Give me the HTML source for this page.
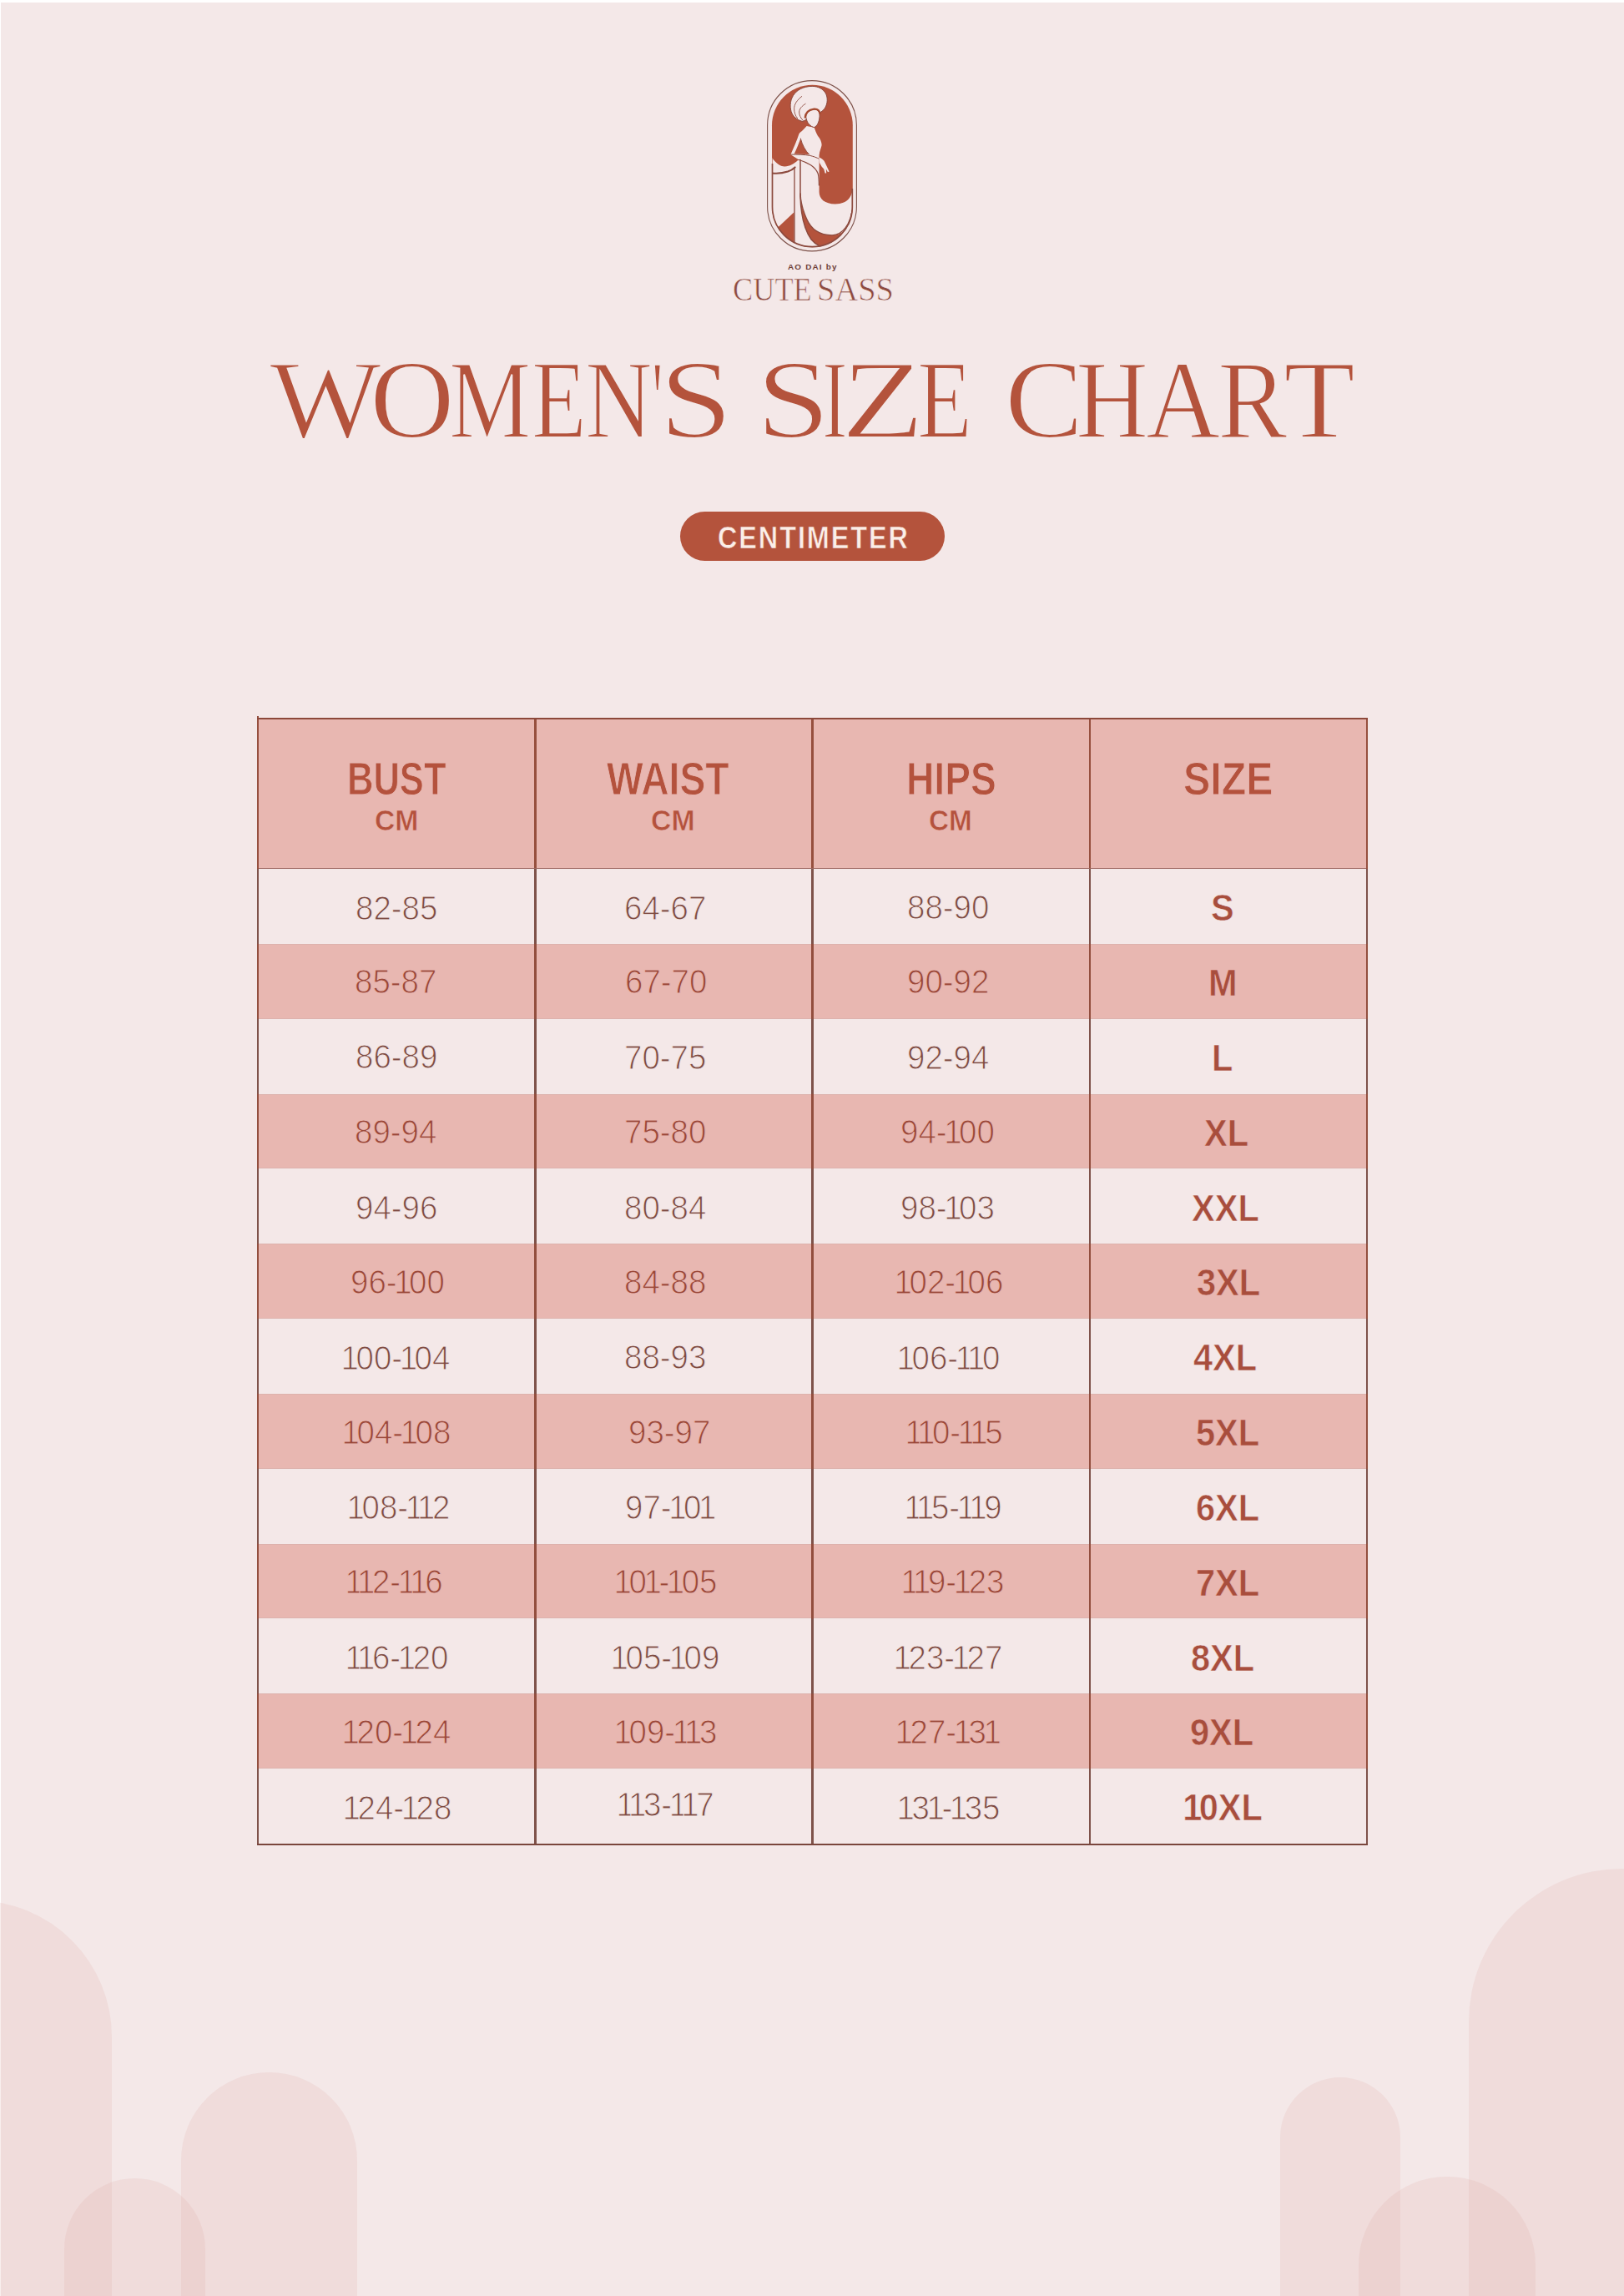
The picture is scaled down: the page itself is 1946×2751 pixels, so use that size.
<!DOCTYPE html><html><head><meta charset="utf-8"><title>Women's Size Chart</title><style>

html,body{margin:0;padding:0;}
body{width:1946px;height:2751px;position:relative;overflow:hidden;background:#F4E8E8;}
.t{position:absolute;white-space:nowrap;line-height:1;transform-origin:0 0;}
.a{position:absolute;background:rgba(222,168,164,0.185);}
.band{position:absolute;left:310px;width:1327px;background:#E8B7B1;}
.be{box-shadow:inset 0 1px 0 #DDB2AD, inset 0 -1px 0 #DDB2AD;}
.vl{position:absolute;background:#8A4A3F;}
.one{font-style:normal;margin:0 -0.09em;}
.L{display:inline-block;transform-origin:0 0;}

</style></head><body>
<div style="position:absolute;left:0;top:0;width:1946px;height:3px;background:#fff"></div>
<div style="position:absolute;left:0;top:0;width:1px;height:2751px;background:#fff"></div>
<div class="a" style="left:-193.5px;top:2276.5px;width:327.0px;height:479.5px;border-radius:163.5px 163.5px 0 0"></div>
<div class="a" style="left:217.0px;top:2482.6px;width:211.0px;height:273.4px;border-radius:105.5px 105.5px 0 0"></div>
<div class="a" style="left:77.1px;top:2610.4px;width:169.2px;height:145.6px;border-radius:84.6px 84.6px 0 0"></div>
<div class="a" style="left:1759.5px;top:2238.5px;width:367.0px;height:517.5px;border-radius:183.5px 183.5px 0 0"></div>
<div class="a" style="left:1533.6px;top:2489.4px;width:144.8px;height:266.6px;border-radius:72.4px 72.4px 0 0"></div>
<div class="a" style="left:1628.4px;top:2608.0px;width:211.2px;height:148.0px;border-radius:105.6px 105.6px 0 0"></div>
<svg style="position:absolute;left:905px;top:85px" width="140" height="230" viewBox="905 85 140 230">
<defs><clipPath id="cap"><rect x="925.6" y="102.4" width="95.6" height="193.2" rx="47.8"/></clipPath></defs>
<rect x="919.6" y="96.6" width="106.8" height="204.3" rx="53.4" fill="none" stroke="#7D5149" stroke-width="1.1"/>
<rect x="925" y="101.8" width="96.8" height="194.4" rx="48.4" fill="#B4533C"/>
<g clip-path="url(#cap)">
<g fill="#F4E8E8">
<!-- halo -->
<path d="M973.2 103.4 C980.5 103.4 986.5 106.5 989.5 112 C992 117 991.8 124 988.8 129 C987.3 131.5 985.5 133 983.6 134.2 L962 145.5 C957 144.5 951.5 141 949 136 C946.2 130 946.3 121 950.5 114.5 C954.5 108 962.5 103.4 973.2 103.4 Z" stroke="#8C4A3E" stroke-width="1"/>
<!-- main white: body + arm + dress -->
<path d="M966.6 151 L975.6 152.8 C976.8 155.5 977.5 158.5 979.9 162.8 C983.5 167 985 171.5 984.5 174.5 C983.8 178 982 181 981.6 186 L981.6 230 C981.6 238.5 988.5 244.4 1000.8 244.4 C1013 244.4 1020 238 1021.5 228 L1022 300 L959.6 300 L959.6 191.5 L957.4 191.4 L947.4 185.2 C951.5 176 955 168 957.4 160.5 C958.5 158.8 959.6 157.8 960.7 157.3 C963 155 965 153 966.6 151 Z"/>
<!-- white crescent under hair lobe + left panel -->
<path d="M924 187.2 C929 195 934 199.3 940.2 199.4 C946 199.5 951.5 196.5 955.8 192.3 L960.4 191.4 L960.4 300 L951.5 300 L951.5 254.3 L930 274.5 L924 274.5 Z"/>
</g>
<!-- crescent (terracotta) -->
<path d="M959.2 232 C959.2 242 961.2 250 966.5 262 C972.5 276 984 281.8 997 281.8 C1006 281.8 1013 277 1017 270 L1030 300 L983.5 300 L983.5 295.5 C979 293.5 975 290.5 972.2 287 C964.2 276 959.7 258 958.7 235 Z" fill="#B4533C"/>
<!-- arm gap triangle -->
<path d="M959.3 166 C961.5 174 965 180.5 969.6 185.1 L951.6 184.6 C954.5 178.5 957.2 172 959.3 166 Z" fill="#B4533C"/>
<g fill="none" stroke="#8C4A3E" stroke-linecap="round">
<!-- left lobe arc -->
<path d="M924.5 207.4 C931 208.2 938 207.5 944 205.6 C947.5 204.3 950.5 202.5 952.6 200.4" stroke-width="2.1"/>
<!-- vertical lines -->
<path d="M952 202.5 L952 300" stroke-width="1.3"/>
<path d="M959 191.5 L959 235 C959.7 258 964.2 276 972.2 287 C975 290.5 979 293.5 983.5 295.6" stroke-width="1.5"/>
<!-- U outline -->
<path d="M959.2 232 C959.2 242 961.2 250 966.5 262 C972.5 276 984 281.8 997 281.8 C1010 281.8 1019 268 1021 252" stroke-width="1.3"/>
<!-- arm lines -->
<path d="M947.6 185.1 C956 185 964.5 185.2 970.5 186.4 C975 187.4 978.5 188.8 981.5 190.3" stroke-width="1"/>
<path d="M957.4 191.5 C962 192.8 967.3 195.3 971.5 197.8 C975.5 200.5 978.5 203.5 980.2 208 C981 211 981.3 215 981.4 222" stroke-width="1.2"/>
<path d="M959.3 166 C961.5 174 965 180.5 969.6 185.1" stroke-width="0.9"/>
<!-- hair lines in halo -->
<path d="M960.7 115.5 C955 120 951.6 125 951.6 130.5 C951.7 135 953.2 139 955.5 141.7" stroke-width="0.9"/>
<path d="M965.1 124.4 C961 127 958 130 957.7 134 C957.5 137.5 959.3 141.5 962.2 144.3" stroke-width="0.9"/>
</g>
<!-- face -->
<path d="M965.8 141 C965.6 136 969 132.3 974.5 131.2 C978.5 130.6 981.3 132.5 982 136.5 C982.3 140 981.8 144 980.3 147.5 C979 150.5 977 152.3 975.2 152.6 C971.5 151.5 968.3 148.5 967 145 Z" fill="#F4E8E8" stroke="#8C4A3E" stroke-width="1"/>
<path d="M964.6 141.5 C965 135 969.5 131.3 975.5 130.6 C979.5 130.3 982 132.3 982.7 136.5" fill="none" stroke="#A5492F" stroke-width="2.2"/>
<!-- hand -->
<path d="M981.3 188.6 C984.5 189.6 987.5 192 988.8 195.2 L993.6 205.5 L992 206.3 L989.8 202.5 L990.2 207.5 L988.6 207.6 L987.2 202.5 L984.5 199.5 L982 195 Z" fill="#F4E8E8"/>
</g>
<!-- capsule lower outline -->
<path d="M925.5 196 L925.5 247.8 A47.9 47.9 0 0 0 1021.3 247.8 L1021.3 226" fill="none" stroke="#8C4A3E" stroke-width="1.7"/>
</svg>

<div style="position:absolute;left:815px;top:612.5px;width:317px;height:59px;border-radius:29.5px;background:#B4533C"></div>
<div style="position:absolute;left:308px;top:860px;width:1331px;height:1351px;border:0;"></div>
<div class="band" style="top:862px;height:178.5px"></div>
<div class="band be" style="top:1130.85px;height:89.85px"></div>
<div class="band be" style="top:1310.55px;height:89.85px"></div>
<div class="band be" style="top:1490.25px;height:89.85px"></div>
<div class="band be" style="top:1669.95px;height:89.85px"></div>
<div class="band be" style="top:1849.65px;height:89.85px"></div>
<div class="band be" style="top:2029.35px;height:89.85px"></div>
<div style="position:absolute;left:308px;top:858px;width:2.0px;height:1353px;background:linear-gradient(to bottom,rgb(150,79,62) 0,rgb(150,79,62) 181px,transparent 181px),repeating-linear-gradient(to bottom,rgb(126,82,74) 0,rgb(126,82,74) 89.85px,rgb(146,78,62) 89.85px,rgb(146,78,62) 179.70px);background-position:0 2px,0 183.00px;background-size:100% 100%,100% 179.70px;"></div>
<div style="position:absolute;left:640px;top:860px;width:2.5px;height:1351px;background:linear-gradient(to bottom,rgb(150,79,62) 0,rgb(150,79,62) 181px,transparent 181px),repeating-linear-gradient(to bottom,rgb(126,82,74) 0,rgb(126,82,74) 89.85px,rgb(146,78,62) 89.85px,rgb(146,78,62) 179.70px);background-position:0 0,0 181.00px;background-size:100% 100%,100% 179.70px;"></div>
<div style="position:absolute;left:972.3px;top:860px;width:2.5px;height:1351px;background:linear-gradient(to bottom,rgb(150,79,62) 0,rgb(150,79,62) 181px,transparent 181px),repeating-linear-gradient(to bottom,rgb(126,82,74) 0,rgb(126,82,74) 89.85px,rgb(146,78,62) 89.85px,rgb(146,78,62) 179.70px);background-position:0 0,0 181.00px;background-size:100% 100%,100% 179.70px;"></div>
<div style="position:absolute;left:1304.6px;top:860px;width:2.5px;height:1351px;background:linear-gradient(to bottom,rgb(150,79,62) 0,rgb(150,79,62) 181px,transparent 181px),repeating-linear-gradient(to bottom,rgb(126,82,74) 0,rgb(126,82,74) 89.85px,rgb(146,78,62) 89.85px,rgb(146,78,62) 179.70px);background-position:0 0,0 181.00px;background-size:100% 100%,100% 179.70px;"></div>
<div style="position:absolute;left:1637px;top:860px;width:2.0px;height:1351px;background:linear-gradient(to bottom,rgb(150,79,62) 0,rgb(150,79,62) 181px,transparent 181px),repeating-linear-gradient(to bottom,rgb(126,82,74) 0,rgb(126,82,74) 89.85px,rgb(146,78,62) 89.85px,rgb(146,78,62) 179.70px);background-position:0 0,0 181.00px;background-size:100% 100%,100% 179.70px;"></div>
<div class="vl" style="left:308px;top:860px;width:1331px;height:2.2px;background:rgb(140,72,58)"></div>
<div class="vl" style="left:308px;top:2209px;width:1331px;height:2px;background:rgb(122,70,60)"></div>
<div class="vl" style="left:310px;top:1039.6px;width:1327px;height:1.4px;background:rgb(158,104,98)"></div>
<div class="t" style="left:943.80px;top:314.65px;font-family:'Liberation Sans', sans-serif;font-weight:bold;font-size:9.57px;color:#6E4038;transform:scaleX(1.0356);letter-spacing:0.12em;">AO DAI by</div>
<div style="position:absolute;left:878.25px;top:327.10px;margin:0;padding:0;font-family:'Liberation Serif', serif;font-weight:normal;font-size:39.096px;line-height:1;white-space:nowrap;word-spacing:-0.25em;color:#8E4B40;-webkit-text-stroke:0.7px #F4E8E8;"><span class="L" style="width:100.25px;transform:scaleX(0.9289)">CUTE</span> <span class="L" style="width:200.00px;transform:scaleX(0.9848)">SASS</span></div>
<h1 style="position:absolute;left:323.08px;top:413.01px;margin:0;padding:0;font-family:'Liberation Serif', serif;font-weight:normal;font-size:132.996px;line-height:1;white-space:nowrap;word-spacing:-0.25em;color:#B4533C;-webkit-text-stroke:2.2px #F4E8E8;"><span class="L" style="width:120.33px;transform:scaleX(1.0665)">W</span><span class="L" style="width:94.45px;transform:scaleX(1.0604)">O</span><span class="L" style="width:99.19px;transform:scaleX(0.8311)">M</span><span class="L" style="width:64.19px;transform:scaleX(0.8094)">E</span><span class="L" style="width:79.99px;transform:scaleX(0.8409)">N</span><span class="L" style="width:8.59px;transform:scaleX(0.5632)">&#39;</span><span class="L" style="width:115.86px;transform:scaleX(1.1890)">S</span> <span class="L" style="width:79.62px;transform:scaleX(1.2020)">S</span><span class="L" style="width:22.51px;transform:scaleX(0.6925)">I</span><span class="L" style="width:91.72px;transform:scaleX(1.2254)">Z</span><span class="L" style="width:104.28px;transform:scaleX(0.8094)">E</span> <span class="L" style="width:85.16px;transform:scaleX(1.0619)">C</span><span class="L" style="width:84.28px;transform:scaleX(0.9071)">H</span><span class="L" style="width:85.94px;transform:scaleX(0.9284)">A</span><span class="L" style="width:79.29px;transform:scaleX(0.9413)">R</span><span class="L" style="width:200.00px;transform:scaleX(1.0597)">T</span></h1>
<div class="t" style="left:860.11px;top:625.60px;font-family:'Liberation Sans', sans-serif;font-weight:bold;font-size:37.38px;color:#FBEEE8;transform:scaleX(0.8660);letter-spacing:0.06em;-webkit-text-stroke:0.6px #B4533C;">CENTIMETER</div>
<div class="t" style="left:416.15px;top:905.51px;font-family:'Liberation Sans', sans-serif;font-weight:bold;font-size:54.83px;color:#B4523D;transform:scaleX(0.7938);-webkit-text-stroke:1.0px #E8B7B1;">BUST</div>
<div class="t" style="left:448.81px;top:964.52px;font-family:'Liberation Sans', sans-serif;font-weight:bold;font-size:35.27px;color:#B4523D;transform:scaleX(0.9570);-webkit-text-stroke:0.6px #E8B7B1;">CM</div>
<div class="t" style="left:727.28px;top:905.51px;font-family:'Liberation Sans', sans-serif;font-weight:bold;font-size:54.83px;color:#B4523D;transform:scaleX(0.8446);-webkit-text-stroke:1.0px #E8B7B1;">WAIST</div>
<div class="t" style="left:779.93px;top:964.52px;font-family:'Liberation Sans', sans-serif;font-weight:bold;font-size:35.27px;color:#B4523D;transform:scaleX(0.9585);-webkit-text-stroke:0.6px #E8B7B1;">CM</div>
<div class="t" style="left:1085.65px;top:905.51px;font-family:'Liberation Sans', sans-serif;font-weight:bold;font-size:54.83px;color:#B4523D;transform:scaleX(0.8418);-webkit-text-stroke:1.0px #E8B7B1;">HIPS</div>
<div class="t" style="left:1113.04px;top:964.52px;font-family:'Liberation Sans', sans-serif;font-weight:bold;font-size:35.27px;color:#B4523D;transform:scaleX(0.9449);-webkit-text-stroke:0.6px #E8B7B1;">CM</div>
<div class="t" style="left:1418.25px;top:905.51px;font-family:'Liberation Sans', sans-serif;font-weight:bold;font-size:54.83px;color:#B4523D;transform:scaleX(0.8815);-webkit-text-stroke:1.0px #E8B7B1;">SIZE</div>
<div class="t" style="left:426.02px;top:1068.52px;font-family:'Liberation Sans', sans-serif;font-weight:normal;font-size:39.86px;color:#7E4B42;transform:scaleX(0.9650);-webkit-text-stroke:1.0px #F4E8E8;">82-85</div>
<div class="t" style="left:747.62px;top:1068.52px;font-family:'Liberation Sans', sans-serif;font-weight:normal;font-size:39.86px;color:#7E4B42;transform:scaleX(0.9650);-webkit-text-stroke:1.0px #F4E8E8;">64-67</div>
<div class="t" style="left:1086.52px;top:1067.52px;font-family:'Liberation Sans', sans-serif;font-weight:normal;font-size:39.86px;color:#7E4B42;transform:scaleX(0.9650);-webkit-text-stroke:1.0px #F4E8E8;">88-90</div>
<div class="t" style="left:1451.20px;top:1067.04px;font-family:'Liberation Sans', sans-serif;font-weight:bold;font-size:43.48px;color:#A84E3D;transform:scaleX(0.9550);-webkit-text-stroke:0.6px #F4E8E8;">S</div>
<div class="t" style="left:424.96px;top:1157.37px;font-family:'Liberation Sans', sans-serif;font-weight:normal;font-size:39.86px;color:#9A4839;transform:scaleX(0.9650);-webkit-text-stroke:1.0px #E8B7B1;">85-87</div>
<div class="t" style="left:748.93px;top:1157.37px;font-family:'Liberation Sans', sans-serif;font-weight:normal;font-size:39.86px;color:#9A4839;transform:scaleX(0.9650);-webkit-text-stroke:1.0px #E8B7B1;">67-70</div>
<div class="t" style="left:1087.02px;top:1157.37px;font-family:'Liberation Sans', sans-serif;font-weight:normal;font-size:39.86px;color:#9A4839;transform:scaleX(0.9650);-webkit-text-stroke:1.0px #E8B7B1;">90-92</div>
<div class="t" style="left:1448.41px;top:1156.89px;font-family:'Liberation Sans', sans-serif;font-weight:bold;font-size:43.48px;color:#A84E3D;transform:scaleX(0.9550);-webkit-text-stroke:0.6px #E8B7B1;">M</div>
<div class="t" style="left:426.21px;top:1247.22px;font-family:'Liberation Sans', sans-serif;font-weight:normal;font-size:39.86px;color:#7E4B42;transform:scaleX(0.9650);-webkit-text-stroke:1.0px #F4E8E8;">86-89</div>
<div class="t" style="left:748.03px;top:1248.22px;font-family:'Liberation Sans', sans-serif;font-weight:normal;font-size:39.86px;color:#7E4B42;transform:scaleX(0.9650);-webkit-text-stroke:1.0px #F4E8E8;">70-75</div>
<div class="t" style="left:1087.49px;top:1248.22px;font-family:'Liberation Sans', sans-serif;font-weight:normal;font-size:39.86px;color:#7E4B42;transform:scaleX(0.9650);-webkit-text-stroke:1.0px #F4E8E8;">92-94</div>
<div class="t" style="left:1451.96px;top:1246.74px;font-family:'Liberation Sans', sans-serif;font-weight:bold;font-size:43.48px;color:#A84E3D;transform:scaleX(0.9550);-webkit-text-stroke:0.6px #F4E8E8;">L</div>
<div class="t" style="left:425.33px;top:1337.07px;font-family:'Liberation Sans', sans-serif;font-weight:normal;font-size:39.86px;color:#9A4839;transform:scaleX(0.9650);-webkit-text-stroke:1.0px #E8B7B1;">89-94</div>
<div class="t" style="left:747.58px;top:1337.07px;font-family:'Liberation Sans', sans-serif;font-weight:normal;font-size:39.86px;color:#9A4839;transform:scaleX(0.9650);-webkit-text-stroke:1.0px #E8B7B1;">75-80</div>
<div class="t" style="left:1079.17px;top:1337.07px;font-family:'Liberation Sans', sans-serif;font-weight:normal;font-size:39.86px;color:#9A4839;transform:scaleX(0.9650);-webkit-text-stroke:1.0px #E8B7B1;">94-<i class="one">1</i>00</div>
<div class="t" style="left:1443.24px;top:1336.59px;font-family:'Liberation Sans', sans-serif;font-weight:bold;font-size:43.48px;color:#A84E3D;transform:scaleX(0.9550);-webkit-text-stroke:0.6px #E8B7B1;">XL</div>
<div class="t" style="left:426.33px;top:1427.92px;font-family:'Liberation Sans', sans-serif;font-weight:normal;font-size:39.86px;color:#7E4B42;transform:scaleX(0.9650);-webkit-text-stroke:1.0px #F4E8E8;">94-96</div>
<div class="t" style="left:748.13px;top:1427.92px;font-family:'Liberation Sans', sans-serif;font-weight:normal;font-size:39.86px;color:#7E4B42;transform:scaleX(0.9650);-webkit-text-stroke:1.0px #F4E8E8;">80-84</div>
<div class="t" style="left:1079.46px;top:1427.92px;font-family:'Liberation Sans', sans-serif;font-weight:normal;font-size:39.86px;color:#7E4B42;transform:scaleX(0.9650);-webkit-text-stroke:1.0px #F4E8E8;">98-<i class="one">1</i>03</div>
<div class="t" style="left:1428.48px;top:1427.44px;font-family:'Liberation Sans', sans-serif;font-weight:bold;font-size:43.48px;color:#A84E3D;transform:scaleX(0.9550);-webkit-text-stroke:0.6px #F4E8E8;">XXL</div>
<div class="t" style="left:419.62px;top:1516.77px;font-family:'Liberation Sans', sans-serif;font-weight:normal;font-size:39.86px;color:#9A4839;transform:scaleX(0.9650);-webkit-text-stroke:1.0px #E8B7B1;">96-<i class="one">1</i>00</div>
<div class="t" style="left:748.37px;top:1516.77px;font-family:'Liberation Sans', sans-serif;font-weight:normal;font-size:39.86px;color:#9A4839;transform:scaleX(0.9650);-webkit-text-stroke:1.0px #E8B7B1;">84-88</div>
<div class="t" style="left:1074.56px;top:1516.77px;font-family:'Liberation Sans', sans-serif;font-weight:normal;font-size:39.86px;color:#9A4839;transform:scaleX(0.9650);-webkit-text-stroke:1.0px #E8B7B1;"><i class="one">1</i>02-<i class="one">1</i>06</div>
<div class="t" style="left:1433.92px;top:1516.29px;font-family:'Liberation Sans', sans-serif;font-weight:bold;font-size:43.48px;color:#A84E3D;transform:scaleX(0.9550);-webkit-text-stroke:0.6px #E8B7B1;">3XL</div>
<div class="t" style="left:412.32px;top:1607.62px;font-family:'Liberation Sans', sans-serif;font-weight:normal;font-size:39.86px;color:#7E4B42;transform:scaleX(0.9650);-webkit-text-stroke:1.0px #F4E8E8;"><i class="one">1</i>00-<i class="one">1</i>04</div>
<div class="t" style="left:747.97px;top:1606.62px;font-family:'Liberation Sans', sans-serif;font-weight:normal;font-size:39.86px;color:#7E4B42;transform:scaleX(0.9650);-webkit-text-stroke:1.0px #F4E8E8;">88-93</div>
<div class="t" style="left:1077.92px;top:1607.62px;font-family:'Liberation Sans', sans-serif;font-weight:normal;font-size:39.86px;color:#7E4B42;transform:scaleX(0.9650);-webkit-text-stroke:1.0px #F4E8E8;"><i class="one">1</i>06-<i class="one">1</i><i class="one">1</i>0</div>
<div class="t" style="left:1430.42px;top:1606.14px;font-family:'Liberation Sans', sans-serif;font-weight:bold;font-size:43.48px;color:#A84E3D;transform:scaleX(0.9550);-webkit-text-stroke:0.6px #F4E8E8;">4XL</div>
<div class="t" style="left:413.46px;top:1697.47px;font-family:'Liberation Sans', sans-serif;font-weight:normal;font-size:39.86px;color:#9A4839;transform:scaleX(0.9650);-webkit-text-stroke:1.0px #E8B7B1;"><i class="one">1</i>04-<i class="one">1</i>08</div>
<div class="t" style="left:753.27px;top:1697.47px;font-family:'Liberation Sans', sans-serif;font-weight:normal;font-size:39.86px;color:#9A4839;transform:scaleX(0.9650);-webkit-text-stroke:1.0px #E8B7B1;">93-97</div>
<div class="t" style="left:1087.78px;top:1697.47px;font-family:'Liberation Sans', sans-serif;font-weight:normal;font-size:39.86px;color:#9A4839;transform:scaleX(0.9650);-webkit-text-stroke:1.0px #E8B7B1;"><i class="one">1</i><i class="one">1</i>0-<i class="one">1</i><i class="one">1</i>5</div>
<div class="t" style="left:1432.71px;top:1695.99px;font-family:'Liberation Sans', sans-serif;font-weight:bold;font-size:43.48px;color:#A84E3D;transform:scaleX(0.9550);-webkit-text-stroke:0.6px #E8B7B1;">5XL</div>
<div class="t" style="left:419.26px;top:1787.32px;font-family:'Liberation Sans', sans-serif;font-weight:normal;font-size:39.86px;color:#7E4B42;transform:scaleX(0.9650);-webkit-text-stroke:1.0px #F4E8E8;"><i class="one">1</i>08-<i class="one">1</i><i class="one">1</i>2</div>
<div class="t" style="left:748.79px;top:1787.32px;font-family:'Liberation Sans', sans-serif;font-weight:normal;font-size:39.86px;color:#7E4B42;transform:scaleX(0.9650);-webkit-text-stroke:1.0px #F4E8E8;">97-<i class="one">1</i>0<i class="one">1</i></div>
<div class="t" style="left:1086.83px;top:1787.32px;font-family:'Liberation Sans', sans-serif;font-weight:normal;font-size:39.86px;color:#7E4B42;transform:scaleX(0.9650);-webkit-text-stroke:1.0px #F4E8E8;"><i class="one">1</i><i class="one">1</i>5-<i class="one">1</i><i class="one">1</i>9</div>
<div class="t" style="left:1433.15px;top:1785.84px;font-family:'Liberation Sans', sans-serif;font-weight:bold;font-size:43.48px;color:#A84E3D;transform:scaleX(0.9550);-webkit-text-stroke:0.6px #F4E8E8;">6XL</div>
<div class="t" style="left:417.43px;top:1876.17px;font-family:'Liberation Sans', sans-serif;font-weight:normal;font-size:39.86px;color:#9A4839;transform:scaleX(0.9650);-webkit-text-stroke:1.0px #E8B7B1;"><i class="one">1</i><i class="one">1</i>2-<i class="one">1</i><i class="one">1</i>6</div>
<div class="t" style="left:738.72px;top:1876.17px;font-family:'Liberation Sans', sans-serif;font-weight:normal;font-size:39.86px;color:#9A4839;transform:scaleX(0.9650);-webkit-text-stroke:1.0px #E8B7B1;"><i class="one">1</i>0<i class="one">1</i>-<i class="one">1</i>05</div>
<div class="t" style="left:1082.92px;top:1876.17px;font-family:'Liberation Sans', sans-serif;font-weight:normal;font-size:39.86px;color:#9A4839;transform:scaleX(0.9650);-webkit-text-stroke:1.0px #E8B7B1;"><i class="one">1</i><i class="one">1</i>9-<i class="one">1</i>23</div>
<div class="t" style="left:1432.55px;top:1875.69px;font-family:'Liberation Sans', sans-serif;font-weight:bold;font-size:43.48px;color:#A84E3D;transform:scaleX(0.9550);-webkit-text-stroke:0.6px #E8B7B1;">7XL</div>
<div class="t" style="left:416.92px;top:1967.02px;font-family:'Liberation Sans', sans-serif;font-weight:normal;font-size:39.86px;color:#7E4B42;transform:scaleX(0.9650);-webkit-text-stroke:1.0px #F4E8E8;"><i class="one">1</i><i class="one">1</i>6-<i class="one">1</i>20</div>
<div class="t" style="left:735.05px;top:1967.02px;font-family:'Liberation Sans', sans-serif;font-weight:normal;font-size:39.86px;color:#7E4B42;transform:scaleX(0.9650);-webkit-text-stroke:1.0px #F4E8E8;"><i class="one">1</i>05-<i class="one">1</i>09</div>
<div class="t" style="left:1073.65px;top:1967.02px;font-family:'Liberation Sans', sans-serif;font-weight:normal;font-size:39.86px;color:#7E4B42;transform:scaleX(0.9650);-webkit-text-stroke:1.0px #F4E8E8;"><i class="one">1</i>23-<i class="one">1</i>27</div>
<div class="t" style="left:1426.51px;top:1965.54px;font-family:'Liberation Sans', sans-serif;font-weight:bold;font-size:43.48px;color:#A84E3D;transform:scaleX(0.9550);-webkit-text-stroke:0.6px #F4E8E8;">8XL</div>
<div class="t" style="left:412.92px;top:2055.87px;font-family:'Liberation Sans', sans-serif;font-weight:normal;font-size:39.86px;color:#9A4839;transform:scaleX(0.9650);-webkit-text-stroke:1.0px #E8B7B1;"><i class="one">1</i>20-<i class="one">1</i>24</div>
<div class="t" style="left:739.17px;top:2055.87px;font-family:'Liberation Sans', sans-serif;font-weight:normal;font-size:39.86px;color:#9A4839;transform:scaleX(0.9650);-webkit-text-stroke:1.0px #E8B7B1;"><i class="one">1</i>09-<i class="one">1</i><i class="one">1</i>3</div>
<div class="t" style="left:1076.18px;top:2055.87px;font-family:'Liberation Sans', sans-serif;font-weight:normal;font-size:39.86px;color:#9A4839;transform:scaleX(0.9650);-webkit-text-stroke:1.0px #E8B7B1;"><i class="one">1</i>27-<i class="one">1</i>3<i class="one">1</i></div>
<div class="t" style="left:1426.21px;top:2055.39px;font-family:'Liberation Sans', sans-serif;font-weight:bold;font-size:43.48px;color:#A84E3D;transform:scaleX(0.9550);-webkit-text-stroke:0.6px #E8B7B1;">9XL</div>
<div class="t" style="left:413.61px;top:2146.72px;font-family:'Liberation Sans', sans-serif;font-weight:normal;font-size:39.86px;color:#7E4B42;transform:scaleX(0.9650);-webkit-text-stroke:1.0px #F4E8E8;"><i class="one">1</i>24-<i class="one">1</i>28</div>
<div class="t" style="left:742.08px;top:2143.22px;font-family:'Liberation Sans', sans-serif;font-weight:normal;font-size:39.86px;color:#7E4B42;transform:scaleX(0.9650);-webkit-text-stroke:1.0px #F4E8E8;"><i class="one">1</i><i class="one">1</i>3-<i class="one">1</i><i class="one">1</i>7</div>
<div class="t" style="left:1078.27px;top:2146.72px;font-family:'Liberation Sans', sans-serif;font-weight:normal;font-size:39.86px;color:#7E4B42;transform:scaleX(0.9650);-webkit-text-stroke:1.0px #F4E8E8;"><i class="one">1</i>3<i class="one">1</i>-<i class="one">1</i>35</div>
<div class="t" style="left:1421.21px;top:2145.24px;font-family:'Liberation Sans', sans-serif;font-weight:bold;font-size:43.48px;color:#A84E3D;transform:scaleX(0.9550);-webkit-text-stroke:0.6px #F4E8E8;"><i class="one">1</i>0XL</div>
</body></html>
